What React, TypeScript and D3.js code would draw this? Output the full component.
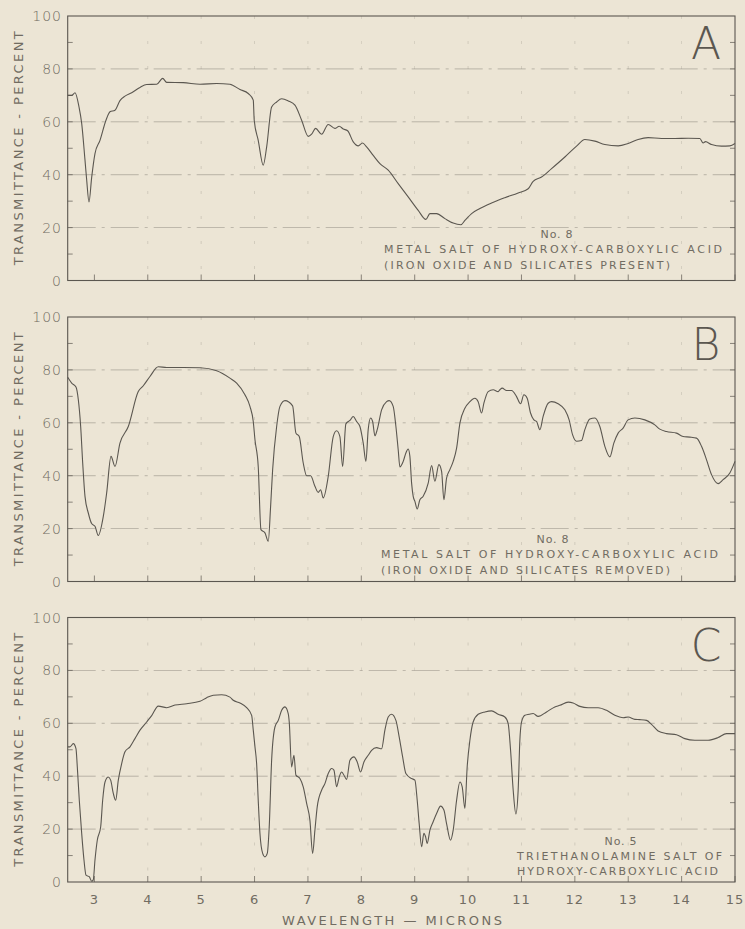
import React from "react";
import * as d3 from "d3";

// ---------- data ----------
const waveA = [2.5, 2.575, 2.637, 2.712, 2.762, 2.824, 2.856, 2.899, 2.949, 3.011, 3.105, 3.217, 3.292, 3.386, 3.479, 3.573, 3.699, 3.854, 3.979, 4.167, 4.279, 4.354, 4.665, 4.978, 5.29, 5.539, 5.727, 5.882, 5.976, 5.994, 6.069, 6.163, 6.227, 6.32, 6.414, 6.508, 6.631, 6.757, 6.882, 7.006, 7.069, 7.144, 7.257, 7.38, 7.506, 7.586, 7.661, 7.744, 7.849, 7.942, 8.024, 8.099, 8.223, 8.348, 8.504, 8.691, 8.878, 9.066, 9.21, 9.285, 9.41, 9.566, 9.721, 9.865, 9.94, 10.066, 10.221, 10.44, 10.689, 10.938, 11.126, 11.219, 11.376, 11.564, 11.813, 12.032, 12.187, 12.375, 12.562, 12.811, 12.998, 13.185, 13.372, 13.623, 13.872, 14.122, 14.341, 14.403, 14.448, 14.56, 14.747, 14.903, 15.0];
const transA = [70, 70, 71, 65.6, 59.4, 45.5, 37.9, 29.7, 39, 48, 53, 60.6, 63.8, 64.4, 68, 69.7, 71, 73, 74.1, 74.2, 76.4, 74.9, 74.8, 74.2, 74.5, 74.2, 72.2, 70.7, 68.2, 60.6, 53, 43.6, 50.5, 65.6, 67.5, 68.7, 67.9, 66.3, 60.6, 54.5, 55.3, 57.5, 55.3, 59, 57.5, 58.3, 57.3, 56.6, 52.4, 50.9, 52, 50.5, 47.3, 44.2, 41.7, 36.6, 31.6, 26.5, 23.1, 25.3, 25.3, 23.4, 21.7, 21.1, 22.7, 25.3, 27.2, 29.3, 31.3, 33.1, 34.7, 37.5, 39.1, 42.3, 46.7, 50.8, 53.3, 52.7, 51.4, 50.9, 51.8, 53.3, 54.0, 53.7, 53.7, 53.8, 53.7, 52, 52.5, 51.4, 50.8, 50.9, 51.8];

const waveB = [2.5, 2.575, 2.655, 2.699, 2.743, 2.781, 2.824, 2.886, 2.949, 3.011, 3.073, 3.167, 3.23, 3.311, 3.386, 3.479, 3.635, 3.822, 3.916, 4.041, 4.197, 4.354, 4.665, 4.978, 5.29, 5.539, 5.665, 5.82, 5.914, 5.976, 6.008, 6.069, 6.12, 6.195, 6.257, 6.301, 6.339, 6.414, 6.476, 6.57, 6.713, 6.775, 6.837, 6.912, 6.976, 7.051, 7.131, 7.193, 7.238, 7.287, 7.38, 7.474, 7.537, 7.599, 7.65, 7.711, 7.787, 7.849, 7.912, 7.974, 8.036, 8.086, 8.129, 8.174, 8.212, 8.255, 8.298, 8.38, 8.474, 8.522, 8.597, 8.648, 8.691, 8.723, 8.785, 8.835, 8.878, 8.91, 8.942, 8.972, 9.004, 9.047, 9.097, 9.159, 9.253, 9.317, 9.378, 9.453, 9.504, 9.547, 9.597, 9.659, 9.721, 9.785, 9.847, 9.94, 10.034, 10.127, 10.189, 10.253, 10.296, 10.376, 10.47, 10.564, 10.596, 10.639, 10.721, 10.815, 10.908, 10.983, 11.045, 11.107, 11.17, 11.232, 11.283, 11.345, 11.406, 11.5, 11.564, 11.687, 11.813, 11.893, 11.957, 12.032, 12.125, 12.187, 12.281, 12.375, 12.468, 12.562, 12.655, 12.73, 12.811, 12.904, 12.998, 13.124, 13.311, 13.498, 13.591, 13.717, 13.904, 14.028, 14.154, 14.279, 14.373, 14.467, 14.56, 14.684, 14.778, 14.903, 15.0];
const transB = [77.2, 75.0, 73.5, 68.7, 58.6, 44.8, 32.2, 25.9, 21.9, 20.9, 17.4, 24.6, 33.5, 47.3, 43.5, 52.3, 58.6, 71.8, 74, 77.5, 81.2, 80.9, 80.9, 80.8, 79.7, 76.9, 75, 70.6, 66.2, 60.5, 53.6, 43.5, 19.6, 18.4, 15.2, 28.4, 42.3, 58.6, 66.2, 68.4, 66.4, 56.1, 54.8, 44.8, 40, 40, 36, 33.7, 34.7, 31.6, 39.7, 54.8, 57, 54.8, 43.5, 59.6, 60.9, 62.4, 60.5, 58.6, 52.3, 45.4, 57.4, 61.8, 60.5, 55.1, 57.4, 64.9, 68, 68.4, 66.2, 58.6, 49.8, 43.3, 45.4, 48.6, 50.1, 47.3, 37.2, 32.2, 30.3, 27.4, 30.9, 32.2, 37.2, 43.8, 37.9, 44.2, 41.6, 30.9, 39.1, 42.3, 45.4, 50.4, 59.9, 65.5, 68.0, 69.3, 68, 63.7, 67.4, 71.8, 72.5, 71.8, 72.5, 73.1, 72.2, 72.2, 69.9, 67.2, 70.6, 69.3, 63.7, 61.1, 60.5, 57.4, 62.4, 67.4, 68, 67.2, 64.9, 61.1, 55.5, 53, 53.3, 57.4, 61.4, 61.8, 58.6, 51.1, 47.1, 52.3, 56.1, 58, 61.1, 61.8, 61.1, 59.2, 57.6, 56.7, 56.1, 54.8, 54.6, 54.2, 51.1, 46, 40.4, 37, 38.5, 41, 45.4];

const waveC = [2.5, 2.543, 2.605, 2.655, 2.68, 2.717, 2.762, 2.805, 2.843, 2.904, 2.949, 2.979, 3.011, 3.054, 3.118, 3.155, 3.199, 3.26, 3.305, 3.354, 3.399, 3.448, 3.511, 3.573, 3.667, 3.76, 3.854, 3.979, 4.073, 4.197, 4.354, 4.509, 4.728, 4.978, 5.103, 5.227, 5.384, 5.539, 5.601, 5.727, 5.852, 5.946, 5.976, 6.008, 6.039, 6.069, 6.101, 6.152, 6.195, 6.238, 6.275, 6.32, 6.382, 6.444, 6.508, 6.569, 6.631, 6.65, 6.694, 6.738, 6.775, 6.85, 6.912, 6.976, 7.037, 7.088, 7.131, 7.174, 7.256, 7.318, 7.38, 7.444, 7.487, 7.537, 7.586, 7.631, 7.693, 7.725, 7.787, 7.861, 7.923, 7.987, 8.049, 8.129, 8.193, 8.286, 8.38, 8.442, 8.504, 8.567, 8.648, 8.71, 8.774, 8.835, 8.942, 9.004, 9.047, 9.084, 9.129, 9.172, 9.204, 9.234, 9.285, 9.346, 9.41, 9.485, 9.547, 9.597, 9.672, 9.721, 9.785, 9.847, 9.89, 9.94, 9.983, 10.034, 10.095, 10.189, 10.314, 10.44, 10.564, 10.689, 10.751, 10.796, 10.845, 10.895, 10.938, 10.97, 11.002, 11.064, 11.144, 11.219, 11.313, 11.47, 11.625, 11.719, 11.875, 11.968, 12.094, 12.249, 12.436, 12.594, 12.749, 12.904, 12.998, 13.124, 13.217, 13.343, 13.436, 13.56, 13.717, 13.904, 14.06, 14.247, 14.496, 14.684, 14.841, 15.0];
const transC = [51.1, 51.1, 52.3, 50.4, 43.5, 30.9, 18.4, 8.3, 2.6, 2, 0.3, 0.8, 8.3, 15.8, 20.9, 30.9, 37.8, 39.7, 38.5, 33.5, 30.9, 38.5, 44.8, 49.2, 51.1, 54.2, 57.4, 60.5, 62.9, 66.5, 65.9, 66.9, 67.4, 68.3, 69.7, 70.6, 70.8, 69.9, 68.7, 67.7, 65.9, 63, 57.4, 51.1, 44.8, 30.9, 18.4, 10.8, 9.5, 10.8, 20.9, 46, 58.6, 61.1, 64.9, 66.2, 63.7, 60.5, 43.5, 47.9, 40.4, 39.1, 36, 29.7, 23.4, 10.8, 19.6, 28.4, 34.7, 37.2, 41, 42.9, 42.3, 36, 39.7, 41.6, 39.7, 38.8, 46, 47.3, 45.4, 41.6, 45.4, 47.9, 49.8, 50.8, 50.4, 57.4, 62.4, 63.4, 61.1, 54.8, 47.3, 41, 39.1, 38.5, 30.9, 22.1, 13.3, 18.4, 17.1, 14.6, 19.6, 22.8, 25.9, 28.7, 27.2, 22.1, 15.8, 19.6, 30.9, 37.8, 36, 27.8, 43.5, 53.6, 60.5, 63.4, 64.3, 64.7, 63.4, 62.4, 59.9, 49.8, 34.7, 25.7, 34.7, 53.6, 60.5, 63, 63.4, 63.7, 62.6, 64.3, 66.2, 66.8, 68.0, 67.7, 66.4, 65.9, 65.9, 64.9, 63, 62.1, 62.4, 61.5, 61.4, 61.1, 59.6, 57.1, 56.1, 55.7, 54.2, 53.6, 53.6, 54.6, 56.1, 56.1];

const yTicks = [0, 20, 40, 60, 80, 100];
const xTicks = [3, 4, 5, 6, 7, 8, 9, 10, 11, 12, 13, 14, 15];
const panelLetters = ["A", "B", "C"];
const noteNumbers = ["No. 8", "No. 8", "No. 5"];
const noteLinesA = ["METAL SALT OF HYDROXY-CARBOXYLIC ACID", "(IRON OXIDE AND SILICATES PRESENT)"];
const noteLinesB = ["METAL SALT OF HYDROXY-CARBOXYLIC ACID", "(IRON OXIDE AND SILICATES REMOVED)"];
const noteLinesC = ["TRIETHANOLAMINE SALT OF", "HYDROXY-CARBOXYLIC ACID"];
const yTitle = "TRANSMITTANCE - PERCENT";
const xTitle = "WAVELENGTH  \u2014  MICRONS";

// ---------- layout ----------
const W = 745;
const H = 929;
const LEFT = 67.7;
const RIGHT = 735;
const PH = 264.5;
const BG = "#ece5d5";
const INK = "#5b5750";
const TXT = "#716c62";
const GRID = "#8c877c";
const FONT = "'DejaVu Sans', 'Liberation Sans', sans-serif";

const x = d3.scaleLinear().domain([2.5, 15]).range([LEFT, RIGHT]);

type Panel = {
  top: number;
  wave: number[];
  trans: number[];
  letter: string;
  num: string;
  numX: number;
  lines: string[];
  lineX: number;
  lineLens: number[];
  numDy: number;
};

const panels: Panel[] = [
  { top: 16, wave: waveA, trans: transA, letter: panelLetters[0], num: noteNumbers[0], numX: 557, lines: noteLinesA, lineX: 384, lineLens: [338, 286], numDy: 222 },
  { top: 317, wave: waveB, trans: transB, letter: panelLetters[1], num: noteNumbers[1], numX: 553, lines: noteLinesB, lineX: 381, lineLens: [337, 289], numDy: 226 },
  { top: 617.5, wave: waveC, trans: transC, letter: panelLetters[2], num: noteNumbers[2], numX: 621, lines: noteLinesC, lineX: 517, lineLens: [205, 201], numDy: 227 },
];

function PanelView({ p }: { p: Panel }) {
  const y = d3.scaleLinear().domain([0, 100]).range([p.top + PH, p.top]);
  const line = d3
    .line<number>()
    .x((_, i) => x(p.wave[i]))
    .y((d) => y(d))
    .curve(d3.curveMonotoneX);
  const minor = [10, 20, 30, 40, 50, 60, 70, 80, 90];
  const vgrid = [4, 5, 6, 7, 8, 9, 10, 11, 12, 13, 14];
  return (
    <g>
      {/* horizontal dash-dot grid */}
      {[20, 40, 60, 80].map((t) => (
        <line key={"h" + t} x1={LEFT} x2={RIGHT} y1={y(t)} y2={y(t)} stroke={GRID} strokeWidth={0.7} strokeDasharray="28,6,3,6" opacity={0.75} />
      ))}
      {/* faint vertical grid */}
      {vgrid.map((w) => (
        <line key={"v" + w} x1={x(w)} x2={x(w)} y1={p.top} y2={p.top + PH} stroke={GRID} strokeWidth={0.6} strokeDasharray="3,22" opacity={0.45} />
      ))}
      {/* minor ticks left and right */}
      {minor.map((t) => (
        <g key={"t" + t}>
          <line x1={LEFT} x2={LEFT + 5} y1={y(t)} y2={y(t)} stroke={INK} strokeWidth={0.7} />
          <line x1={RIGHT - 5} x2={RIGHT} y1={y(t)} y2={y(t)} stroke={INK} strokeWidth={0.7} />
        </g>
      ))}
      {/* bottom ticks */}
      {xTicks.map((w) => (
        <line key={"b" + w} x1={x(w)} x2={x(w)} y1={p.top + PH} y2={p.top + PH - 6} stroke={INK} strokeWidth={0.7} />
      ))}
      {/* frame */}
      <rect x={LEFT} y={p.top} width={RIGHT - LEFT} height={PH} fill="none" stroke={INK} strokeWidth={1.1} />
      {/* y tick labels */}
      {yTicks.map((t) => (
        <text key={"yl" + t} x={62} y={y(t) + 5} textAnchor="end" fontSize={14} fill={TXT} fontFamily={FONT} fontWeight={300} letterSpacing={1}>
          {t}
        </text>
      ))}
      {/* y title */}
      <text
        transform={`translate(23,${p.top + PH / 2}) rotate(-90)`}
        textAnchor="middle"
        fontSize={13}
        fill={TXT}
        fontFamily={FONT}
        textLength={234}
        lengthAdjust="spacing"
      >
        {yTitle}
      </text>
      {/* spectrum */}
      <path d={line(p.trans) || ""} fill="none" stroke={INK} strokeWidth={1.1} strokeLinejoin="round" />
      {/* panel letter */}
      <text x={706} y={p.top + 43} textAnchor="middle" fontSize={44} fill={INK} fontFamily={FONT} fontWeight={300}>
        {p.letter}
      </text>
      {/* annotation */}
      <text x={p.numX} y={p.top + p.numDy} textAnchor="middle" fontSize={11} fill={TXT} fontFamily={FONT} letterSpacing={0.8}>
        {p.num}
      </text>
      {p.lines.map((s, i) => (
        <text key={"n" + i} x={p.lineX} y={p.top + p.numDy + 15 + i * 15.5} fontSize={11} fill={TXT} fontFamily={FONT} textLength={p.lineLens[i]} lengthAdjust="spacing">
          {s}
        </text>
      ))}
    </g>
  );
}

export default function App() {
  const bottom = panels[2].top + PH;
  return (
    <svg width={W} height={H} viewBox={`0 0 ${W} ${H}`} style={{ position: "absolute", left: 0, top: 0, display: "block" }}>
      <rect x={0} y={0} width={W} height={H} fill={BG} />
      {panels.map((p, i) => (
        <PanelView key={i} p={p} />
      ))}
      {xTicks.map((w) => (
        <text key={"xl" + w} x={x(w)} y={bottom + 22} textAnchor="middle" fontSize={13} fill={TXT} fontFamily={FONT} letterSpacing={1}>
          {w}
        </text>
      ))}
      <text x={392} y={bottom + 43} textAnchor="middle" fontSize={13} fill={TXT} fontFamily={FONT} textLength={220} lengthAdjust="spacing">
        {xTitle}
      </text>
    </svg>
  );
}
